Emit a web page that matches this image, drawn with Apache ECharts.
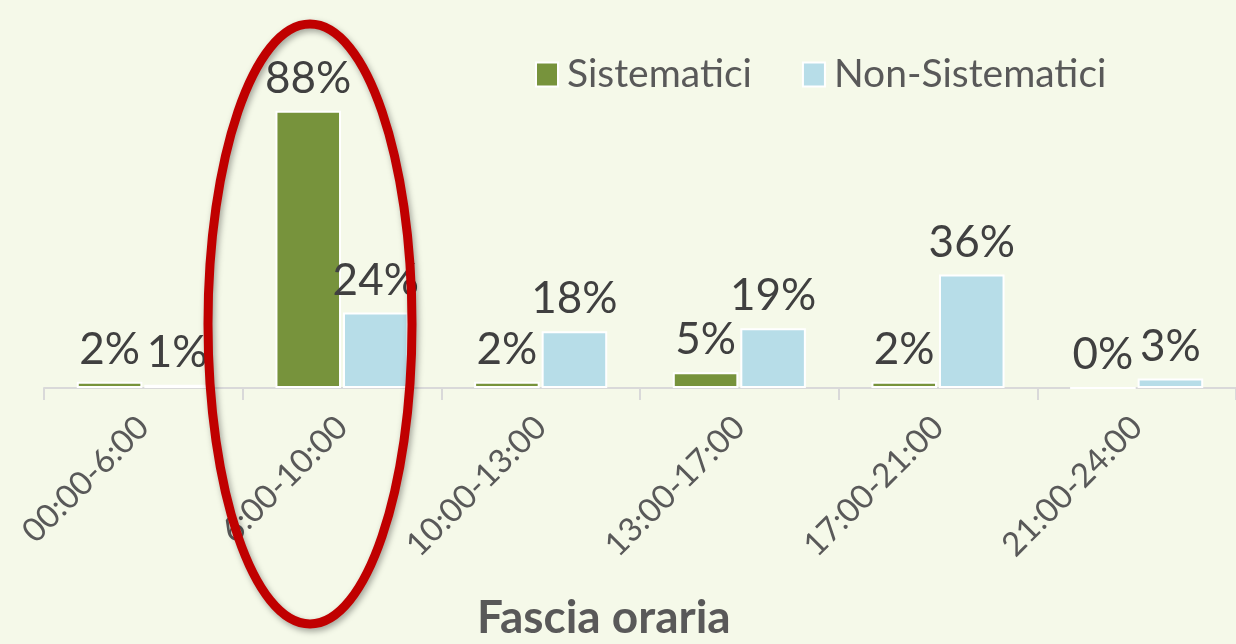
<!DOCTYPE html>
<html><head><meta charset="utf-8">
<script src="https://cdn.jsdelivr.net/npm/echarts@6/dist/echarts.min.js"></script>
<style>html,body{margin:0;padding:0;background:#F5F9E9;}#c{width:1236px;height:644px;}</style>
</head><body><div id="c"></div>
<script>
const categories = ['00:00-6:00','6:00-10:00','10:00-13:00','13:00-17:00','17:00-21:00','21:00-24:00'];
const sistematici = [2, 88, 2, 5, 2, 0];
const nonSistematici = [1, 24, 18, 19, 36, 3];
const seriesNames = ['Sistematici', 'Non-Sistematici'];
const axisTitle = 'Fascia oraria';

const FONT = 'Lato';
const chart = echarts.init(document.getElementById('c'), null, {renderer:'canvas'});
const labelCfg = {show:true, position:'top', distance:10, formatter:'{c}%', fontFamily:FONT, fontSize:44, color:'#404040'};
chart.setOption({
  backgroundColor:'#F5F9E9',
  animation:false,
  textStyle:{fontFamily:FONT},
  legend:{top:50, left:530, itemWidth:22, itemHeight:24, itemGap:50, icon:'rect',
    textStyle:{fontFamily:FONT, fontSize:39, color:'#595959', padding:[0,0,0,4]},
    data:seriesNames},
  title:{text:axisTitle, left:472, top:590, textStyle:{fontFamily:FONT, fontSize:46, fontWeight:'bold', color:'#595959'}},
  grid:{left:44, top:73, width:1196, height:315},
  xAxis:{type:'category', data:categories,
    axisLine:{lineStyle:{color:'#D9D9D9', width:2}},
    axisTick:{show:true, length:12, lineStyle:{color:'#D9D9D9', width:2}},
    axisLabel:{rotate:45, margin:34, fontFamily:FONT, fontSize:33, color:'#595959'}},
  yAxis:{type:'value', min:0, max:100, show:false, splitLine:{show:false}},
  series:[
    {name:seriesNames[0], type:'bar', data:sistematici, barWidth:'33%', barGap:'3%',
     itemStyle:{color:'#77933C', borderColor:'#FFFFFF', borderWidth:2}, label:labelCfg},
    {name:seriesNames[1], type:'bar', data:nonSistematici, barWidth:'33%',
     itemStyle:{color:'#B7DDE8', borderColor:'#FFFFFF', borderWidth:2}, label:labelCfg}
  ],
  graphic:[{type:'ellipse', shape:{cx:310, cy:324, rx:102, ry:300}, z:100,
    style:{fill:null, stroke:'#C00000', lineWidth:9, shadowBlur:6, shadowColor:'rgba(0,0,0,0.35)', shadowOffsetX:2, shadowOffsetY:3}}]
});
</script></body></html>
